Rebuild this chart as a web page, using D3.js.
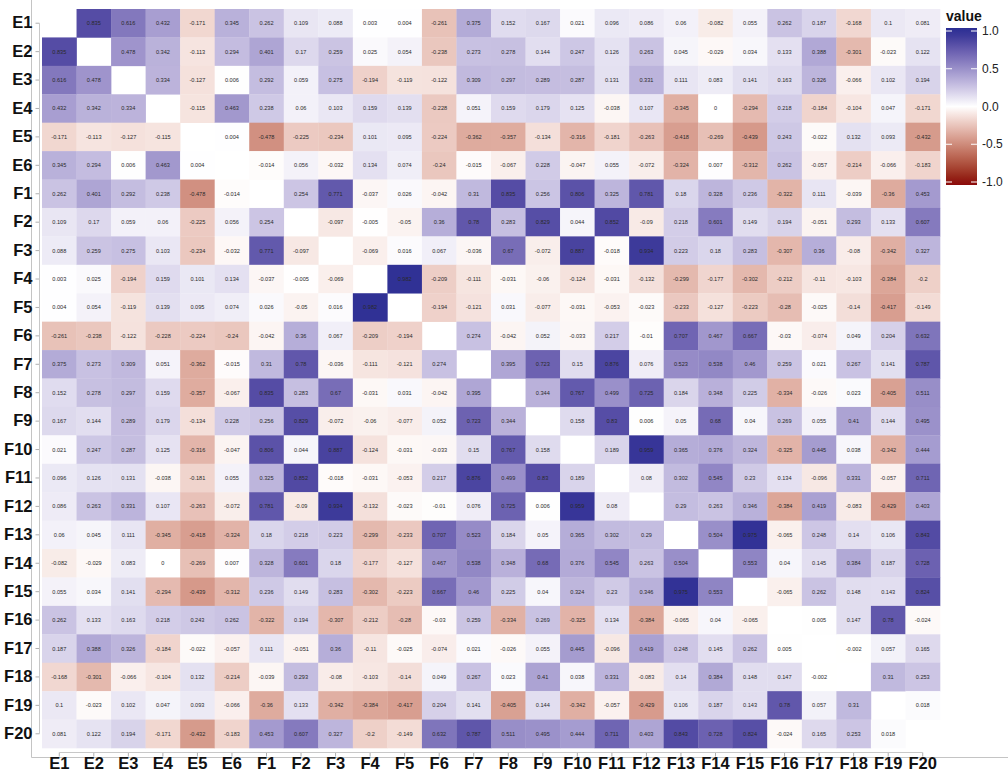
<!DOCTYPE html>
<html>
<head>
<meta charset="utf-8">
<script src="https://cdn.jsdelivr.net/npm/d3@7"></script>
<style>
  html, body { margin: 0; padding: 0; background: #ffffff; }
  svg { display: block; }
</style>
</head>
<body>
<svg id="chart" width="1008" height="774"></svg>
<script>
// Variables (row/column order)
const variables = ["E1","E2","E3","E4","E5","E6","F1","F2","F3","F4","F5","F6","F7","F8","F9","F10","F11","F12","F13","F14","F15","F16","F17","F18","F19","F20"];

// Upper-triangle correlations: each row lists values with the variables that follow it
const rowE1  = [0.835, 0.616, 0.432, -0.171, 0.345, 0.262, 0.109, 0.088, 0.003, 0.004, -0.261, 0.375, 0.152, 0.167, 0.021, 0.096, 0.086, 0.06, -0.082, 0.055, 0.262, 0.187, -0.168, 0.1, 0.081];
const rowE2  = [0.478, 0.342, -0.113, 0.294, 0.401, 0.17, 0.259, 0.025, 0.054, -0.238, 0.273, 0.278, 0.144, 0.247, 0.126, 0.263, 0.045, -0.029, 0.034, 0.133, 0.388, -0.301, -0.023, 0.122];
const rowE3  = [0.334, -0.127, 0.006, 0.292, 0.059, 0.275, -0.194, -0.119, -0.122, 0.309, 0.297, 0.289, 0.287, 0.131, 0.331, 0.111, 0.083, 0.141, 0.163, 0.326, -0.066, 0.102, 0.194];
const rowE4  = [-0.115, 0.463, 0.238, 0.06, 0.103, 0.159, 0.139, -0.228, 0.051, 0.159, 0.179, 0.125, -0.038, 0.107, -0.345, 0, -0.294, 0.218, -0.184, -0.104, 0.047, -0.171];
const rowE5  = [0.004, -0.478, -0.225, -0.234, 0.101, 0.095, -0.224, -0.362, -0.357, -0.134, -0.316, -0.181, -0.263, -0.418, -0.269, -0.439, 0.243, -0.022, 0.132, 0.093, -0.432];
const rowE6  = [-0.014, 0.056, -0.032, 0.134, 0.074, -0.24, -0.015, -0.067, 0.228, -0.047, 0.055, -0.072, -0.324, 0.007, -0.312, 0.262, -0.057, -0.214, -0.066, -0.183];
const rowF1  = [0.254, 0.771, -0.037, 0.026, -0.042, 0.31, 0.835, 0.256, 0.806, 0.325, 0.781, 0.18, 0.328, 0.236, -0.322, 0.111, -0.039, -0.36, 0.453];
const rowF2  = [-0.097, -0.005, -0.05, 0.36, 0.78, 0.283, 0.829, 0.044, 0.852, -0.09, 0.218, 0.601, 0.149, 0.194, -0.051, 0.293, 0.133, 0.607];
const rowF3  = [-0.069, 0.016, 0.067, -0.036, 0.67, -0.072, 0.887, -0.018, 0.934, 0.223, 0.18, 0.283, -0.307, 0.36, -0.08, -0.342, 0.327];
const rowF4  = [0.982, -0.209, -0.111, -0.031, -0.06, -0.124, -0.031, -0.132, -0.299, -0.177, -0.302, -0.212, -0.11, -0.103, -0.384, -0.2];
const rowF5  = [-0.194, -0.121, 0.031, -0.077, -0.031, -0.053, -0.023, -0.233, -0.127, -0.223, -0.28, -0.025, -0.14, -0.417, -0.149];
const rowF6  = [0.274, -0.042, 0.052, -0.033, 0.217, -0.01, 0.707, 0.467, 0.667, -0.03, -0.074, 0.049, 0.204, 0.632];
const rowF7  = [0.395, 0.723, 0.15, 0.876, 0.076, 0.523, 0.538, 0.46, 0.259, 0.021, 0.267, 0.141, 0.787];
const rowF8  = [0.344, 0.767, 0.499, 0.725, 0.184, 0.348, 0.225, -0.334, -0.026, 0.023, -0.405, 0.511];
const rowF9  = [0.158, 0.83, 0.006, 0.05, 0.68, 0.04, 0.269, 0.055, 0.41, 0.144, 0.495];
const rowF10 = [0.189, 0.959, 0.365, 0.376, 0.324, -0.325, 0.445, 0.038, -0.342, 0.444];
const rowF11 = [0.08, 0.302, 0.545, 0.23, 0.134, -0.096, 0.331, -0.057, 0.711];
const rowF12 = [0.29, 0.263, 0.346, -0.384, 0.419, -0.083, -0.429, 0.403];
const rowF13 = [0.504, 0.975, -0.065, 0.248, 0.14, 0.106, 0.843];
const rowF14 = [0.553, 0.04, 0.145, 0.384, 0.187, 0.728];
const rowF15 = [-0.065, 0.262, 0.148, 0.143, 0.824];
const rowF16 = [0.005, 0.147, 0.78, -0.024];
const rowF17 = [-0.002, 0.057, 0.165];
const rowF18 = [0.31, 0.253];
const rowF19 = [0.018];

const legendTicks = [1.0, 0.5, 0.0, -0.5, -1.0];
const legendTickLabels = ["1.0", "0.5", "0.0", "-0.5", "-1.0"];
const legendTitle = "value";

const upperRows = [rowE1,rowE2,rowE3,rowE4,rowE5,rowE6,rowF1,rowF2,rowF3,rowF4,rowF5,rowF6,rowF7,rowF8,rowF9,rowF10,rowF11,rowF12,rowF13,rowF14,rowF15,rowF16,rowF17,rowF18,rowF19];

// Build symmetric cell list (diagonal left empty)
const cells = [];
upperRows.forEach((vals, i) => {
  vals.forEach((v, k) => {
    const j = i + 1 + k;
    cells.push({row: variables[i], col: variables[j], value: v});
    cells.push({row: variables[j], col: variables[i], value: v});
  });
});

const svg = d3.select("#chart");

const x = d3.scaleBand().domain(variables).range([42, 940]).padding(0);
const y = d3.scaleBand().domain(variables).range([9, 748]).padding(0);

const color = d3.scaleLinear()
  .domain([-1, 0, 1])
  .range(["#8B0A0A", "#ffffff", "#2B2E93"])
  .interpolate(d3.interpolateLab)
  .clamp(true);

// Outer L-shaped frame lines
svg.append("line").attr("x1", 31.5).attr("x2", 31.5).attr("y1", 0).attr("y2", 757.5)
  .attr("stroke", "#c4c4c4").attr("stroke-width", 1);
svg.append("line").attr("x1", 31.5).attr("x2", 1008).attr("y1", 757.5).attr("y2", 757.5)
  .attr("stroke", "#c4c4c4").attr("stroke-width", 1);

// Tiles
svg.append("g").selectAll("rect").data(cells).join("rect")
  .attr("x", d => x(d.col))
  .attr("y", d => y(d.row))
  .attr("width", x.bandwidth() + 0.3)
  .attr("height", y.bandwidth() + 0.3)
  .attr("fill", d => color(d.value));

// Cell labels
svg.append("g").selectAll("text").data(cells).join("text")
  .attr("x", d => x(d.col) + x.bandwidth() / 2)
  .attr("y", d => y(d.row) + y.bandwidth() / 2)
  .attr("text-anchor", "middle")
  .attr("dominant-baseline", "central")
  .attr("font-family", "Liberation Sans, Arial, sans-serif")
  .attr("font-size", 5.6)
  .attr("fill", "#2a2a2a")
  .text(d => String(d.value));

// Y axis
const yAxis = svg.append("g").attr("transform", "translate(39.5,0)")
  .call(d3.axisLeft(y).tickSize(4).tickPadding(3).tickSizeOuter(0));
yAxis.select(".domain").remove();
yAxis.append("line")
  .attr("x1", 0).attr("x2", 0)
  .attr("y1", y(variables[0]) + y.bandwidth() / 2)
  .attr("y2", y(variables[variables.length - 1]) + y.bandwidth() / 2)
  .attr("stroke", "#c8c8c8");
yAxis.selectAll(".tick line").attr("stroke", "#b0b0b0");
yAxis.selectAll(".tick text")
  .attr("font-family", "Liberation Sans, Arial, sans-serif")
  .attr("font-size", 16.5).attr("font-weight", "bold").attr("fill", "#111");

// X axis
const xAxis = svg.append("g").attr("transform", "translate(0,752.5)")
  .call(d3.axisBottom(x).tickSize(4).tickPadding(1).tickSizeOuter(0));
xAxis.select(".domain").remove();
xAxis.append("line")
  .attr("y1", 0).attr("y2", 0)
  .attr("x1", x(variables[0]) + x.bandwidth() / 2)
  .attr("x2", x(variables[variables.length - 1]) + x.bandwidth() / 2)
  .attr("stroke", "#c8c8c8");
xAxis.selectAll(".tick line").attr("stroke", "#b0b0b0");
xAxis.selectAll(".tick text")
  .attr("font-family", "Liberation Sans, Arial, sans-serif")
  .attr("font-size", 16.5).attr("font-weight", "bold").attr("fill", "#111");

// Legend
const lg = svg.append("g");
const barX = 946, barW = 31, barTop = 28, barBottom = 185;
const ly = d3.scaleLinear().domain([1, -1]).range([31, 182]);
lg.append("text").attr("x", 946).attr("y", 21)
  .attr("font-family", "Liberation Sans, Arial, sans-serif")
  .attr("font-size", 14).attr("font-weight", "bold").attr("fill", "#111")
  .text(legendTitle);
const defs = svg.append("defs");
const grad = defs.append("linearGradient").attr("id", "lgGrad")
  .attr("x1", 0).attr("x2", 0).attr("y1", 0).attr("y2", 1);
d3.range(0, 1.0001, 0.05).forEach(t => {
  const yy = barTop + t * (barBottom - barTop);
  grad.append("stop").attr("offset", t).attr("stop-color", color(ly.invert(yy)));
});
lg.append("rect").attr("x", barX).attr("y", barTop).attr("width", barW).attr("height", barBottom - barTop)
  .attr("fill", "url(#lgGrad)");
legendTicks.forEach((v, i) => {
  const yy = ly(v);
  lg.append("line").attr("x1", barX).attr("x2", barX + 6).attr("y1", yy).attr("y2", yy)
    .attr("stroke", "#ffffff").attr("stroke-width", 1);
  lg.append("line").attr("x1", barX + barW - 6).attr("x2", barX + barW).attr("y1", yy).attr("y2", yy)
    .attr("stroke", "#ffffff").attr("stroke-width", 1);
  lg.append("text").attr("x", 982).attr("y", yy)
    .attr("dominant-baseline", "central")
    .attr("font-family", "Liberation Sans, Arial, sans-serif")
    .attr("font-size", 12).attr("fill", "#222")
    .text(legendTickLabels[i]);
});
</script>
</body>
</html>
